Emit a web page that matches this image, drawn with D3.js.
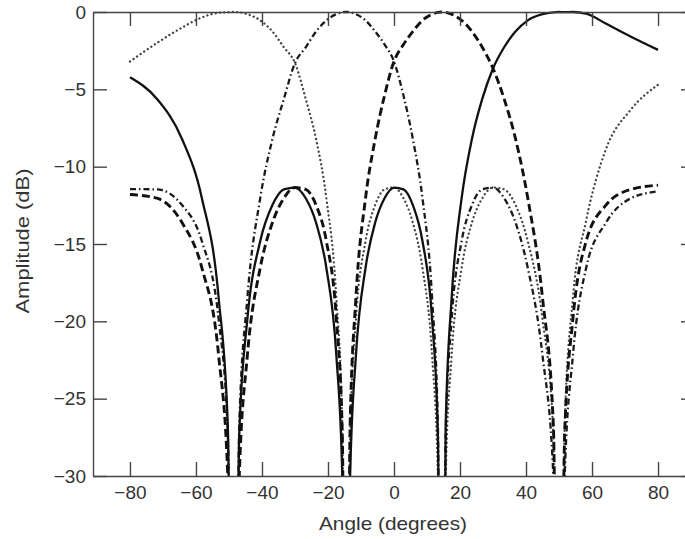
<!DOCTYPE html>
<html><head><meta charset="utf-8">
<script src="https://cdn.jsdelivr.net/npm/d3@7"></script>
<style>
body{margin:0;background:#fff;}
svg{display:block;}
text{font-family:"Liberation Sans",Arial,Helvetica,sans-serif;fill:#333;}
</style>
</head><body>
<svg id="chart" width="685" height="539"></svg>
<script>
// Angle grid (degrees), shared by all beams
const angles = [-80, -71.81, -64.16, -58.21, -53.13, -50.35, -48.59, -46.89, -44.43, -40.54, -36.87, -33.37, -30, -26.74, -23.58, -20.49, -17.46, -15.66, -14.48, -13.30, -11.54, -8.63, -5.74, -2.87, 0, 2.87, 5.74, 8.63, 11.54, 13.30, 14.48, 15.66, 17.46, 20.49, 23.58, 26.74, 30, 33.37, 36.87, 40.54, 45.0, 48.3, 50.0, 51.7, 54.2, 58.21, 64.16, 71.81, 80];

// Beam steered to about +49 deg (solid)
const beamSolid = [-4.22, -5.62, -8.24, -12.04, -18.49, -26.79, -60, -27.33, -19.86, -14.82, -12.50, -11.47, -11.35, -12.04, -13.64, -16.55, -22.22, -30.08, -60, -30.08, -22.22, -16.55, -13.64, -12.04, -11.35, -11.47, -12.50, -14.82, -19.86, -27.33, -60, -26.79, -18.49, -12.04, -8.24, -5.62, -3.65, -2.28, -1.25, -0.54, -0.14, -0.02, 0, -0.01, 0, -0.1, -0.75, -1.6, -2.45];

// Beam steered to about +14.5 deg (dashed)
const beamDashed = [-11.8, -12.04, -13.64, -16.55, -22.22, -30.08, -60, -30.08, -22.22, -16.55, -13.64, -12.04, -11.35, -11.47, -12.50, -14.82, -19.86, -27.33, -60, -26.79, -18.49, -12.04, -8.24, -5.4, -3.2, -2.1, -1.25, -0.54, -0.14, -0.02, 0, -0.02, -0.14, -0.54, -1.25, -2.28, -3.65, -5.62, -8.24, -12.04, -18.49, -26.79, -60, -27.33, -19.86, -14.82, -12.50, -11.47, -11.2];

// Beam steered to about -14.5 deg (dash-dot)
const beamDashDot = [-11.45, -11.47, -12.50, -14.82, -19.86, -27.33, -60, -26.79, -18.49, -12.04, -8.24, -5.62, -3.3, -2.28, -1.25, -0.54, -0.14, -0.02, 0, -0.02, -0.14, -0.54, -1.25, -2.1, -3.2, -5.4, -8.24, -12.04, -18.49, -26.79, -60, -27.33, -19.86, -14.82, -12.50, -11.47, -11.35, -12.04, -13.64, -16.55, -22.22, -30.08, -60, -30.08, -22.22, -16.55, -13.64, -12.04, -11.6];

// Beam steered to about -48.6 deg (dotted)
const beamDotted = [-3.2, -2.0, -1.0, -0.35, -0.05, -0.01, 0, -0.02, -0.14, -0.54, -1.25, -2.28, -3.3, -5.62, -8.24, -12.04, -18.49, -26.79, -60, -27.33, -19.86, -14.82, -12.50, -11.47, -11.35, -12.04, -13.64, -16.55, -22.22, -30.08, -60, -30.08, -22.22, -16.55, -13.64, -12.04, -11.35, -11.47, -12.50, -14.82, -19.86, -27.33, -60, -26.79, -18.49, -13.5, -8.9, -6.3, -4.7];

const xTicks = [-80, -60, -40, -20, 0, 20, 40, 60, 80];
const yTicks = [0, -5, -10, -15, -20, -25, -30];
const xTitle = "Angle (degrees)";
const yTitle = "Amplitude (dB)";

const svg = d3.select("#chart");
const L = 93, R = 695, T = 12, B = 476;
const x = d3.scaleLinear().domain([-91.2, 91.2]).range([L, R]);
const y = d3.scaleLinear().domain([-30, 0]).range([B, T]);

svg.append("defs").append("clipPath").attr("id", "clip")
  .append("rect").attr("x", L).attr("y", T - 2).attr("width", R - L).attr("height", B - T + 2);

const styles = [
  {data: beamDotted, stroke: "#444", width: 2.3, dash: "0.1 4.2", cap: "round"},
  {data: beamDashDot, stroke: "#1a1a1a", width: 2.3, dash: "6 3 1.5 3", cap: "butt"},
  {data: beamDashed, stroke: "#111", width: 2.9, dash: "8 4", cap: "butt"},
  {data: beamSolid, stroke: "#111", width: 2.3, dash: null, cap: "butt"}
];

const line = d3.line()
  .x((d, i) => x(angles[i]))
  .y(d => y(d))
  .curve(d3.curveMonotoneX);

const g = svg.append("g").attr("clip-path", "url(#clip)");
styles.forEach(s => {
  g.append("path")
    .attr("d", line(s.data))
    .attr("fill", "none")
    .attr("stroke", s.stroke)
    .attr("stroke-width", s.width)
    .attr("stroke-dasharray", s.dash)
    .attr("stroke-linecap", s.cap)
    .attr("stroke-linejoin", "round");
});

function styleAxis(sel) {
  sel.selectAll(".domain").attr("stroke", "#444").attr("stroke-width", 1.4);
  sel.selectAll(".tick line").attr("stroke", "#444").attr("stroke-width", 1.4);
  sel.selectAll("text").attr("font-size", 19).attr("fill", "#333")
    .attr("font-family", '"Liberation Sans",Arial,Helvetica,sans-serif');
}

svg.append("g").attr("transform", `translate(0,${B})`)
  .call(d3.axisBottom(x).tickValues(xTicks).tickSizeInner(-14).tickSizeOuter(0).tickPadding(10))
  .call(styleAxis);
svg.append("g").attr("transform", `translate(0,${T})`)
  .call(d3.axisTop(x).tickValues(xTicks).tickSizeInner(-14).tickSizeOuter(0).tickFormat(""))
  .call(styleAxis);
svg.append("g").attr("transform", `translate(${L},0)`)
  .call(d3.axisLeft(y).tickValues(yTicks).tickSizeInner(-14).tickSizeOuter(0).tickPadding(7))
  .call(styleAxis);
svg.append("g").attr("transform", `translate(${R},0)`)
  .call(d3.axisRight(y).tickValues(yTicks).tickSizeInner(-14).tickSizeOuter(0).tickFormat(""))
  .call(styleAxis);

svg.append("text")
  .attr("x", 393).attr("y", 530)
  .attr("text-anchor", "middle")
  .attr("font-size", 19)
  .attr("textLength", 148).attr("lengthAdjust", "spacingAndGlyphs")
  .text(xTitle);

svg.append("text")
  .attr("transform", "translate(29,241) rotate(-90)")
  .attr("text-anchor", "middle")
  .attr("font-size", 19)
  .attr("textLength", 145).attr("lengthAdjust", "spacingAndGlyphs")
  .text(yTitle);
</script>
</body></html>
